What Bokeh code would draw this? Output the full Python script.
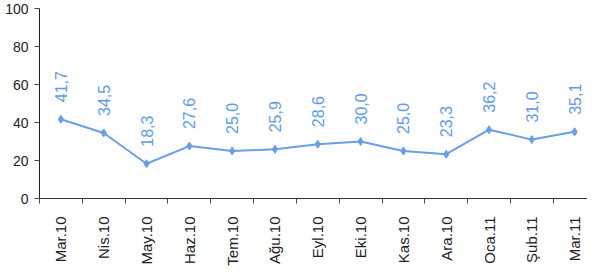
import math
from bokeh.plotting import figure
from bokeh.models import ColumnDataSource, FixedTicker, Range1d
from bokeh.core.properties import value
from bokeh.embed import file_html
from bokeh.resources import INLINE

months = ["Mar.10", "Nis.10", "May.10", "Haz.10", "Tem.10", "Ağu.10", "Eyl.10",
          "Eki.10", "Kas.10", "Ara.10", "Oca.11", "Şub.11", "Mar.11"]
values = [41.7, 34.5, 18.3, 27.6, 25.0, 25.9, 28.6, 30.0, 25.0, 23.3, 36.2, 31.0, 35.1]
y_ticks = [0, 20, 40, 60, 80, 100]

xs = list(range(len(months)))
labels = [f"{v:.1f}".replace(".", ",") for v in values]
src = ColumnDataSource(dict(x=xs, y=values, label=labels))

p = figure(width=587, height=268, output_backend="svg", toolbar_location=None,
           x_range=Range1d(-0.5, 12.3), y_range=Range1d(0, 100),
           min_border_left=39, min_border_right=0, min_border_top=8, min_border_bottom=69)
p.outline_line_color = None
p.xgrid.visible = False
p.ygrid.visible = False

LINE = "#6b9de8"
TEXT = "#5c9be8"

p.line("x", "y", source=src, line_color=LINE, line_width=2)
p.scatter("x", "y", source=src, marker="diamond", size=8, fill_color=LINE, line_color=LINE)
p.text("x", "y", text="label", source=src, angle=math.pi / 2, text_align="left",
       text_baseline="middle", y_offset=-17, text_color=TEXT,
       text_font=value("Liberation Sans"), text_font_size="16px")

# y axis
p.yaxis.ticker = FixedTicker(ticks=y_ticks)
p.yaxis.axis_line_color = "#222222"
p.yaxis.major_tick_in = 0
p.yaxis.major_tick_out = 5
p.yaxis.minor_tick_line_color = None
p.yaxis.major_tick_line_color = "#444444"
p.yaxis.major_label_text_font = "Liberation Sans"
p.yaxis.major_label_text_font_size = "14px"
p.yaxis.major_label_text_color = "#222222"
p.yaxis.major_label_standoff = 6

# x axis
p.xaxis.ticker = FixedTicker(ticks=xs, minor_ticks=[i - 0.5 for i in range(len(months) + 1)])
p.xaxis.major_label_overrides = {i: m for i, m in enumerate(months)}
p.xaxis.major_label_orientation = math.pi / 2
p.xaxis.major_tick_in = 0
p.xaxis.major_tick_out = 0
p.xaxis.minor_tick_in = 0
p.xaxis.minor_tick_out = 5
p.xaxis.minor_tick_line_color = "#444444"
p.xaxis.axis_line_color = "#333333"
p.xaxis.major_label_text_font = "Liberation Sans"
p.xaxis.major_label_text_font_size = "15px"
p.xaxis.major_label_text_color = "#222222"
p.xaxis.major_label_standoff = 13

open("out.html", "w").write(file_html(p, INLINE))
